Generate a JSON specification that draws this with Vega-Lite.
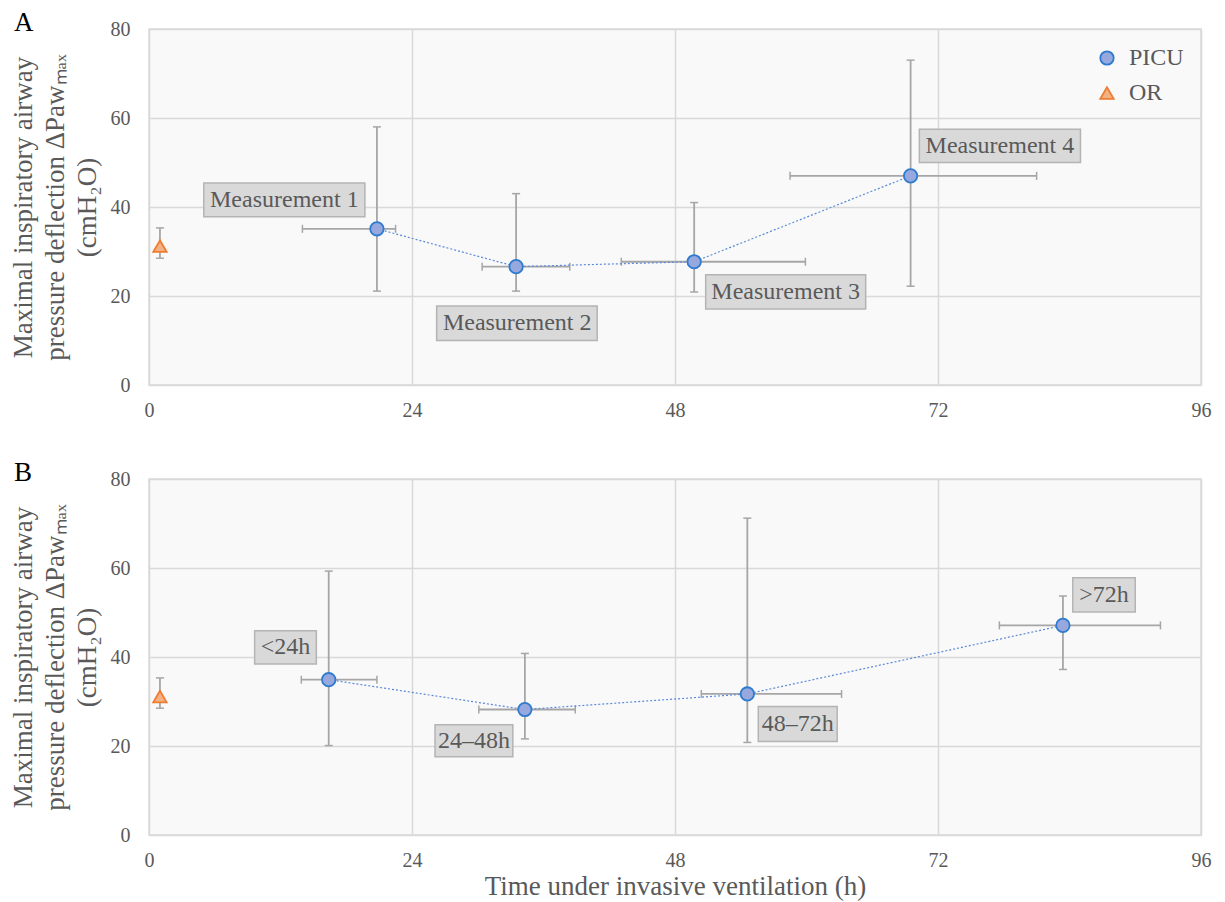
{
  "$schema": "https://vega.github.io/schema/vega-lite/v6.json",
  "padding": {"left": 8, "top": 8, "right": 20, "bottom": 2},
  "spacing": 37,
  "datasets": {
    "pts": [
      {"panel": "A", "group": "OR", "x": 1, "y": 31.2, "ylo": 28.5, "yhi": 35.3, "xlo": null, "xhi": null},
      {"panel": "A", "group": "PICU", "x": 20.8, "y": 35.1, "ylo": 21.1, "yhi": 58.0, "xlo": 14.0, "xhi": 22.5},
      {"panel": "A", "group": "PICU", "x": 33.5, "y": 26.6, "ylo": 21.1, "yhi": 43.0, "xlo": 30.4, "xhi": 38.4},
      {"panel": "A", "group": "PICU", "x": 49.75, "y": 27.7, "ylo": 20.9, "yhi": 41.0, "xlo": 43.1, "xhi": 59.9},
      {"panel": "A", "group": "PICU", "x": 69.5, "y": 47.0, "ylo": 22.2, "yhi": 73.0, "xlo": 58.5, "xhi": 81.0},
      {"panel": "B", "group": "OR", "x": 1, "y": 31.1, "ylo": 28.5, "yhi": 35.3, "xlo": null, "xhi": null},
      {"panel": "B", "group": "PICU", "x": 16.4, "y": 34.9, "ylo": 20.1, "yhi": 59.3, "xlo": 13.9, "xhi": 20.8},
      {"panel": "B", "group": "PICU", "x": 34.3, "y": 28.2, "ylo": 21.6, "yhi": 40.8, "xlo": 30.1, "xhi": 38.9},
      {"panel": "B", "group": "PICU", "x": 54.6, "y": 31.7, "ylo": 20.8, "yhi": 71.2, "xlo": 50.4, "xhi": 63.2},
      {"panel": "B", "group": "PICU", "x": 83.4, "y": 47.1, "ylo": 37.2, "yhi": 53.7, "xlo": 77.6, "xhi": 92.3}
    ],
    "labels": [
      {"panel": "A", "label": "Measurement 1", "tx": 12.35, "ty": 41.6, "x0": 5.0, "x1": 19.7, "y0": 37.8, "y1": 45.4},
      {"panel": "A", "label": "Measurement 2", "tx": 33.6, "ty": 13.9, "x0": 26.25, "x1": 40.9, "y0": 10.0, "y1": 17.75},
      {"panel": "A", "label": "Measurement 3", "tx": 58.1, "ty": 20.95, "x0": 50.8, "x1": 65.4, "y0": 17.1, "y1": 24.8},
      {"panel": "A", "label": "Measurement 4", "tx": 77.65, "ty": 53.75, "x0": 70.3, "x1": 85.0, "y0": 50.0, "y1": 57.5},
      {"panel": "B", "label": "<24h", "tx": 12.45, "ty": 42.15, "x0": 9.64, "x1": 15.27, "y0": 38.4, "y1": 45.9},
      {"panel": "B", "label": "24–48h", "tx": 29.65, "ty": 21.2, "x0": 26.1, "x1": 33.2, "y0": 17.6, "y1": 24.8},
      {"panel": "B", "label": "48–72h", "tx": 59.2, "ty": 24.95, "x0": 55.6, "x1": 62.8, "y0": 21.0, "y1": 28.9},
      {"panel": "B", "label": ">72h", "tx": 87.15, "ty": 53.95, "x0": 84.3, "x1": 90.0, "y0": 50.1, "y1": 57.8}
    ]
  },
  "vconcat": [
    {
      "title": {"text": "A", "anchor": "start", "frame": "bounds", "fontSize": 27, "font": "Liberation Serif", "fontWeight": "normal", "color": "#000000", "offset": -18, "dx": 5},
      "width": 1052,
      "height": 356,
      "layer": [
        {
          "data": {"name": "labels"},
          "transform": [{"filter": "datum.panel == 'A'"}],
          "mark": {"type": "rect", "fill": "#d9d9d9", "stroke": "#b4b4b4", "strokeWidth": 1.5},
          "encoding": {
            "x": {"field": "x0", "type": "quantitative", "scale": {"domain": [0, 96], "nice": false}, "axis": {"title": null, "values": [0, 24, 48, 72, 96]}},
            "x2": {"field": "x1"},
            "y": {"field": "y0", "type": "quantitative", "scale": {"domain": [0, 80], "nice": false}, "axis": {"title": ["Maximal inspiratory airway", "pressure deflection ΔPawₘₐₓ", "(cmH₂O)"], "values": [0, 20, 40, 60, 80]}},
            "y2": {"field": "y1"}
          }
        },
        {
          "data": {"name": "labels"},
          "transform": [{"filter": "datum.panel == 'A'"}],
          "mark": {"type": "text", "font": "Liberation Serif", "fontSize": 24, "color": "#595959", "baseline": "middle", "align": "center"},
          "encoding": {
            "x": {"field": "tx", "type": "quantitative"},
            "y": {"field": "ty", "type": "quantitative"},
            "text": {"field": "label"}
          }
        },
        {
          "data": {"name": "pts"},
          "transform": [{"filter": "datum.panel == 'A' && datum.xlo != null"}],
          "mark": {"type": "rule", "color": "#a6a6a6", "strokeWidth": 1.8},
          "encoding": {
            "x": {"field": "xlo", "type": "quantitative"},
            "x2": {"field": "xhi"},
            "y": {"field": "y", "type": "quantitative"}
          }
        },
        {
          "data": {"name": "pts"},
          "transform": [{"filter": "datum.panel == 'A' && datum.xlo != null"}],
          "mark": {"type": "tick", "orient": "vertical", "color": "#a6a6a6", "size": 8, "thickness": 1.5, "opacity": 1},
          "encoding": {
            "x": {"field": "xlo", "type": "quantitative"},
            "y": {"field": "y", "type": "quantitative"}
          }
        },
        {
          "data": {"name": "pts"},
          "transform": [{"filter": "datum.panel == 'A' && datum.xlo != null"}],
          "mark": {"type": "tick", "orient": "vertical", "color": "#a6a6a6", "size": 8, "thickness": 1.5, "opacity": 1},
          "encoding": {
            "x": {"field": "xhi", "type": "quantitative"},
            "y": {"field": "y", "type": "quantitative"}
          }
        },
        {
          "data": {"name": "pts"},
          "transform": [{"filter": "datum.panel == 'A'"}],
          "mark": {"type": "rule", "color": "#a6a6a6", "strokeWidth": 1.8},
          "encoding": {
            "x": {"field": "x", "type": "quantitative"},
            "y": {"field": "ylo", "type": "quantitative"},
            "y2": {"field": "yhi"}
          }
        },
        {
          "data": {"name": "pts"},
          "transform": [{"filter": "datum.panel == 'A'"}],
          "mark": {"type": "tick", "orient": "horizontal", "color": "#a6a6a6", "size": 8, "thickness": 1.5, "opacity": 1},
          "encoding": {
            "x": {"field": "x", "type": "quantitative"},
            "y": {"field": "ylo", "type": "quantitative"}
          }
        },
        {
          "data": {"name": "pts"},
          "transform": [{"filter": "datum.panel == 'A'"}],
          "mark": {"type": "tick", "orient": "horizontal", "color": "#a6a6a6", "size": 8, "thickness": 1.5, "opacity": 1},
          "encoding": {
            "x": {"field": "x", "type": "quantitative"},
            "y": {"field": "yhi", "type": "quantitative"}
          }
        },
        {
          "data": {"name": "pts"},
          "transform": [{"filter": "datum.panel == 'A' && datum.group == 'PICU'"}],
          "mark": {"type": "line", "color": "#5b8ad8", "strokeWidth": 1.2, "strokeDash": [2, 2]},
          "encoding": {
            "x": {"field": "x", "type": "quantitative"},
            "y": {"field": "y", "type": "quantitative"},
            "order": {"field": "x"}
          }
        },
        {
          "data": {"name": "pts"},
          "transform": [{"filter": "datum.panel == 'A'"}],
          "mark": {"type": "point", "filled": true, "size": 180, "strokeWidth": 1.8, "opacity": 1},
          "encoding": {
            "x": {"field": "x", "type": "quantitative"},
            "y": {"field": "y", "type": "quantitative"},
            "shape": {"field": "group", "type": "nominal", "scale": {"domain": ["PICU", "OR"], "range": ["circle", "triangle-up"]}, "legend": {"title": null, "orient": "top-right", "offset": 17}},
            "fill": {"field": "group", "type": "nominal", "scale": {"domain": ["PICU", "OR"], "range": ["#97a8de", "#f4b183"]}, "legend": {"title": null, "orient": "top-right", "offset": 17}},
            "stroke": {"field": "group", "type": "nominal", "scale": {"domain": ["PICU", "OR"], "range": ["#2e7bcf", "#ed7d31"]}, "legend": {"title": null, "orient": "top-right", "offset": 17}}
          }
        }
      ],
      "encoding": {}
    },
    {
      "title": {"text": "B", "anchor": "start", "frame": "bounds", "fontSize": 27, "font": "Liberation Serif", "fontWeight": "normal", "color": "#000000", "offset": -18, "dx": 5},
      "width": 1052,
      "height": 356,
      "layer": [
        {
          "data": {"name": "labels"},
          "transform": [{"filter": "datum.panel == 'B'"}],
          "mark": {"type": "rect", "fill": "#d9d9d9", "stroke": "#b4b4b4", "strokeWidth": 1.5},
          "encoding": {
            "x": {"field": "x0", "type": "quantitative", "scale": {"domain": [0, 96], "nice": false}, "axis": {"title": "Time under invasive ventilation (h)", "values": [0, 24, 48, 72, 96]}},
            "x2": {"field": "x1"},
            "y": {"field": "y0", "type": "quantitative", "scale": {"domain": [0, 80], "nice": false}, "axis": {"title": ["Maximal inspiratory airway", "pressure deflection ΔPawₘₐₓ", "(cmH₂O)"], "values": [0, 20, 40, 60, 80]}},
            "y2": {"field": "y1"}
          }
        },
        {
          "data": {"name": "labels"},
          "transform": [{"filter": "datum.panel == 'B'"}],
          "mark": {"type": "text", "font": "Liberation Serif", "fontSize": 24, "color": "#595959", "baseline": "middle", "align": "center"},
          "encoding": {
            "x": {"field": "tx", "type": "quantitative"},
            "y": {"field": "ty", "type": "quantitative"},
            "text": {"field": "label"}
          }
        },
        {
          "data": {"name": "pts"},
          "transform": [{"filter": "datum.panel == 'B' && datum.xlo != null"}],
          "mark": {"type": "rule", "color": "#a6a6a6", "strokeWidth": 1.8},
          "encoding": {
            "x": {"field": "xlo", "type": "quantitative"},
            "x2": {"field": "xhi"},
            "y": {"field": "y", "type": "quantitative"}
          }
        },
        {
          "data": {"name": "pts"},
          "transform": [{"filter": "datum.panel == 'B' && datum.xlo != null"}],
          "mark": {"type": "tick", "orient": "vertical", "color": "#a6a6a6", "size": 8, "thickness": 1.5, "opacity": 1},
          "encoding": {
            "x": {"field": "xlo", "type": "quantitative"},
            "y": {"field": "y", "type": "quantitative"}
          }
        },
        {
          "data": {"name": "pts"},
          "transform": [{"filter": "datum.panel == 'B' && datum.xlo != null"}],
          "mark": {"type": "tick", "orient": "vertical", "color": "#a6a6a6", "size": 8, "thickness": 1.5, "opacity": 1},
          "encoding": {
            "x": {"field": "xhi", "type": "quantitative"},
            "y": {"field": "y", "type": "quantitative"}
          }
        },
        {
          "data": {"name": "pts"},
          "transform": [{"filter": "datum.panel == 'B'"}],
          "mark": {"type": "rule", "color": "#a6a6a6", "strokeWidth": 1.8},
          "encoding": {
            "x": {"field": "x", "type": "quantitative"},
            "y": {"field": "ylo", "type": "quantitative"},
            "y2": {"field": "yhi"}
          }
        },
        {
          "data": {"name": "pts"},
          "transform": [{"filter": "datum.panel == 'B'"}],
          "mark": {"type": "tick", "orient": "horizontal", "color": "#a6a6a6", "size": 8, "thickness": 1.5, "opacity": 1},
          "encoding": {
            "x": {"field": "x", "type": "quantitative"},
            "y": {"field": "ylo", "type": "quantitative"}
          }
        },
        {
          "data": {"name": "pts"},
          "transform": [{"filter": "datum.panel == 'B'"}],
          "mark": {"type": "tick", "orient": "horizontal", "color": "#a6a6a6", "size": 8, "thickness": 1.5, "opacity": 1},
          "encoding": {
            "x": {"field": "x", "type": "quantitative"},
            "y": {"field": "yhi", "type": "quantitative"}
          }
        },
        {
          "data": {"name": "pts"},
          "transform": [{"filter": "datum.panel == 'B' && datum.group == 'PICU'"}],
          "mark": {"type": "line", "color": "#5b8ad8", "strokeWidth": 1.2, "strokeDash": [2, 2]},
          "encoding": {
            "x": {"field": "x", "type": "quantitative"},
            "y": {"field": "y", "type": "quantitative"},
            "order": {"field": "x"}
          }
        },
        {
          "data": {"name": "pts"},
          "transform": [{"filter": "datum.panel == 'B'"}],
          "mark": {"type": "point", "filled": true, "size": 180, "strokeWidth": 1.8, "opacity": 1},
          "encoding": {
            "x": {"field": "x", "type": "quantitative"},
            "y": {"field": "y", "type": "quantitative"},
            "shape": {"field": "group", "type": "nominal", "scale": {"domain": ["PICU", "OR"], "range": ["circle", "triangle-up"]}, "legend": null},
            "fill": {"field": "group", "type": "nominal", "scale": {"domain": ["PICU", "OR"], "range": ["#97a8de", "#f4b183"]}, "legend": null},
            "stroke": {"field": "group", "type": "nominal", "scale": {"domain": ["PICU", "OR"], "range": ["#2e7bcf", "#ed7d31"]}, "legend": null}
          }
        }
      ],
      "encoding": {}
    }
  ],
  "resolve": {"scale": {"shape": "independent", "fill": "independent", "stroke": "independent"}},
  "config": {
    "font": "Liberation Serif",
    "view": {"fill": "#f9f9f9", "stroke": "#d9d9d9", "strokeWidth": 1.5},
    "axisX": {"labelPadding": 15, "titlePadding": 3},
    "axisY": {
      "labelPadding": 19,
      "titlePadding": 9,
      "titleLineHeight": 32
    },
    "axis": {
      "grid": true,
      "gridColor": "#d9d9d9",
      "gridWidth": 1.5,
      "domain": false,
      "ticks": false,
      "labelFont": "Liberation Serif",
      "labelFontSize": 20,
      "labelColor": "#595959",
      "titleColor": "#595959",
      "titleFont": "Liberation Serif",
      "titleFontSize": 27,
      "titleFontWeight": "normal",
      "labelFlush": false
    },
    "legend": {
      "labelFont": "Liberation Serif",
      "labelFontSize": 24,
      "labelColor": "#595959",
      "symbolSize": 180,
      "symbolStrokeWidth": 1.8,
      "rowPadding": 11,
      "labelOffset": 10
    }
  }
}
